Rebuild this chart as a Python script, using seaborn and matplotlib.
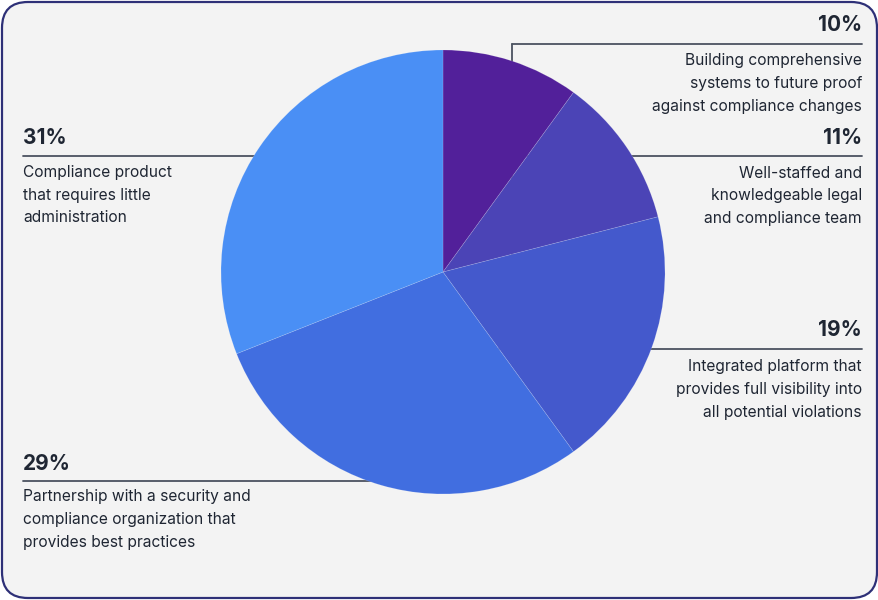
import matplotlib
matplotlib.use("Agg")
import matplotlib.pyplot as plt
from matplotlib.patches import FancyBboxPatch
import seaborn as sns

# ---- data ----
categories = [
    "Building comprehensive\nsystems to future proof\nagainst compliance changes",
    "Well-staffed and\nknowledgeable legal\nand compliance team",
    "Integrated platform that\nprovides full visibility into\nall potential violations",
    "Partnership with a security and\ncompliance organization that\nprovides best practices",
    "Compliance product\nthat requires little\nadministration",
]
values = [10, 11, 19, 29, 31]
colors = ["#52209A", "#4B44B6", "#4459CC", "#416EE0", "#4A8FF5"]

sns.set_theme(style="white")
plt.rcParams["font.family"] = ["Inter", "DejaVu Sans"]

W, H = 879, 600
fig = plt.figure(figsize=(W / 100, H / 100), dpi=100, facecolor="white")
ax = fig.add_axes([0, 0, 1, 1])
ax.set_xlim(0, W)
ax.set_ylim(0, H)
ax.axis("off")

def Y(y):
    return H - y

# rounded card background
card = FancyBboxPatch((2, 2), W - 4, H - 4,
                      boxstyle="round,pad=0,rounding_size=26",
                      facecolor="#F3F3F3", edgecolor="#2E3077", linewidth=1.6,
                      zorder=0)
ax.add_patch(card)

cx, cy, r = 443, 272, 222
ax.pie(values, colors=colors, startangle=90, counterclock=False,
       center=(cx, Y(cy)), radius=r, frame=True,
       wedgeprops=dict(linewidth=0.5, edgecolor=(1, 1, 1, 0.18), zorder=3))
ax.set_xlim(0, W)
ax.set_ylim(0, H)
ax.set_aspect("equal")
ax.axis("off")

text_c = "#1F2633"
line_c = "#4B5260"
pct_fs = 15
desc_fs = 11.2

# label layout: (side, line_y, pct_y, first_desc_y)
layout = [
    ("right", 44, 25, 61),
    ("right", 156, 138, 173),
    ("right", 349, 330, 367),
    ("left", 481, 464, 497),
    ("left", 156, 138, 173),
]
lh = 22.5
for (side, ly, py, dy), v, lab in zip(layout, values, categories):
    if side == "right":
        x_text = 862
        ha = "right"
        if v == values[0]:
            ax.plot([512, x_text], [Y(ly), Y(ly)], color=line_c, lw=1.3, zorder=1)
            ax.plot([512, 512], [Y(ly), Y(cy)], color=line_c, lw=1.3, zorder=1)
        else:
            ax.plot([cx, x_text], [Y(ly), Y(ly)], color=line_c, lw=1.3, zorder=1)
    else:
        x_text = 23
        ha = "left"
        ax.plot([x_text, cx], [Y(ly), Y(ly)], color=line_c, lw=1.3, zorder=1)
    ax.text(x_text, Y(py), f"{v}%", ha=ha, va="center", fontsize=pct_fs,
            fontweight="bold", color=text_c, zorder=5)
    for i, line in enumerate(lab.split("\n")):
        ax.text(x_text, Y(dy + i * lh), line, ha=ha, va="center",
                fontsize=desc_fs, color=text_c, zorder=5)

fig.savefig("out.png", dpi=100, facecolor="white")
